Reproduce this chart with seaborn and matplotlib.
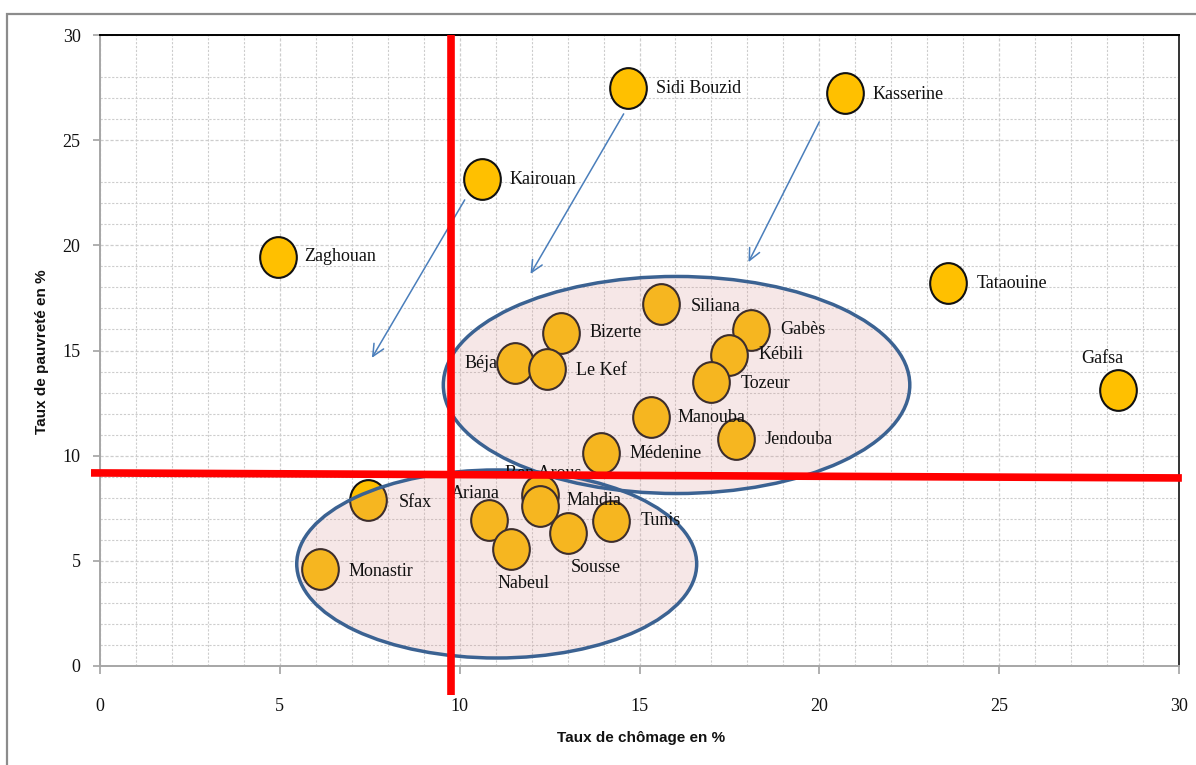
import numpy as np
import pandas as pd
import matplotlib
matplotlib.use("Agg")
import matplotlib.pyplot as plt
import seaborn as sns
from matplotlib.path import Path
from matplotlib.patches import Ellipse, Rectangle
from matplotlib.transforms import Affine2D
from matplotlib.ticker import MultipleLocator, FixedLocator

# ---- data ----
regions = ["Zaghouan", "Kairouan", "Sidi Bouzid", "Kasserine", "Tataouine", "Gafsa",
           "Siliana", "Bizerte", "Béja", "Le Kef", "Gabès", "Kébili", "Tozeur",
           "Manouba", "Jendouba", "Médenine", "Ben Arous", "Mahdia", "Ariana",
           "Tunis", "Sousse", "Nabeul", "Sfax", "Monastir"]
chomage = [4.94, 10.61, 14.69, 20.72, 23.58, 28.31,
           15.61, 12.81, 11.53, 12.42, 18.11, 17.50, 17.00,
           15.33, 17.69, 13.92, 12.22, 12.22, 10.81,
           14.22, 13.00, 11.42, 7.44, 6.11]
pauvrete = [19.45, 23.16, 27.48, 27.25, 18.21, 13.12,
            17.21, 15.83, 14.41, 14.12, 15.98, 14.79, 13.50,
            11.84, 10.79, 10.13, 8.15, 7.62, 6.94,
            6.90, 6.32, 5.56, 7.89, 4.61]

# label placement (offset in pixels, horizontal alignment)
label_dx = [27, 28, 28, 27, 29, -16, 29, 29, -17, 29, 29, 29, 29,
            26, 28, 29, 4, 27, -14, 29, 3, -13, 31, 29]
label_dy = [0, -1, 0, -2, -1, 32, -2, 1, -1, -1, 0, 0, -1,
            -1, 0, -1, 21, 5, 27, 0, -34, -34, -2, -2]
label_ha = ["left"] * 5 + ["center"] + ["left"] * 2 + ["right"] + ["left"] * 7 + \
           ["center", "left", "center", "left", "left", "left", "left", "left"]

# threshold lines
seuil_x = 9.75
seuil_y_left, seuil_y_right = 9.18, 8.94

# groups (ellipses): center x, center y, width, height
groups_cx = [16.03, 11.03]
groups_cy = [13.36, 4.85]
groups_w = [12.97, 11.12]
groups_h = [10.32, 8.94]

# arrows: start -> end
arr_x0 = [10.14, 14.56, 20.00]
arr_y0 = [22.16, 26.25, 25.87]
arr_x1 = [7.56, 11.97, 18.03]
arr_y1 = [14.65, 18.64, 19.20]

x_ticks = [0, 5, 10, 15, 20, 25, 30]
y_ticks = [0, 5, 10, 15, 20, 25, 30]
y_minor = [1, 2, 3, 4, 6, 7, 8, 9, 11, 12, 13, 14, 16, 17, 18, 19, 21, 22, 23, 26, 27, 28]

df = pd.DataFrame({"region": regions, "chomage": chomage, "pauvrete": pauvrete})

# ---- style ----
sns.set_theme(style="ticks")
plt.rcParams['font.family'] = ['Liberation Serif', 'DejaVu Serif']

W, H = 1196, 765
fig = plt.figure(figsize=(W / 100, H / 100), dpi=100)
fig.patch.set_facecolor("white")
ax = fig.add_axes([100 / W, 1 - 666 / H, (1179 - 100) / W, (666 - 35) / H])

# outer frame
fig.add_artist(Rectangle((7 / W, -0.05), 1.2, (1 - 14 / H) + 0.05,
                         transform=fig.transFigure, fill=False,
                         edgecolor="#8C8C8C", lw=1.6, zorder=10))

ax.set_xlim(0, 30)
ax.set_ylim(0, 30)
ax.set_xticks(x_ticks)
ax.set_yticks(y_ticks)
ax.xaxis.set_minor_locator(MultipleLocator(1))
ax.yaxis.set_minor_locator(FixedLocator(y_minor))
ax.grid(True, which="major", color="#CDCDCD", lw=0.9, ls=(0, (2.5, 1.5)))
ax.grid(True, which="minor", color="#CDCDCD", lw=0.8, ls=(0, (2, 1.5)))
ax.set_axisbelow(True)

# points
ell = Path.unit_circle().transformed(Affine2D().scale(0.9, 1.0))
sns.scatterplot(data=df, x="chomage", y="pauvrete", marker=ell, s=860,
                color="#FFC000", edgecolor="#111111", linewidth=1.5,
                ax=ax, zorder=3, legend=False, clip_on=False)

# labels
for name, x, y, dx, dy, ha in zip(regions, chomage, pauvrete, label_dx, label_dy, label_ha):
    ax.annotate(name, (x, y), xytext=(dx, dy), textcoords="offset pixels",
                ha=ha, va="center", fontsize=13, color="#111111", zorder=5)

# ellipses (semi-transparent, drawn over the points)
for cx, cy, w, h in zip(groups_cx, groups_cy, groups_w, groups_h):
    ax.add_patch(Ellipse((cx, cy), w, h, facecolor="#D99694", alpha=0.22,
                         edgecolor="none", zorder=4))
    ax.add_patch(Ellipse((cx, cy), w, h, facecolor="none",
                         edgecolor="#3B6292", lw=2.5, zorder=4.5))

# arrows
for x0, y0, x1, y1 in zip(arr_x0, arr_y0, arr_x1, arr_y1):
    ax.annotate("", xy=(x1, y1), xytext=(x0, y0),
                arrowprops=dict(arrowstyle="->,head_length=0.85,head_width=0.4",
                                color="#4A7EBB", lw=1.1, shrinkA=0, shrinkB=0,
                                mutation_scale=10), zorder=3)

# red threshold lines
ax.plot([seuil_x, seuil_x], [30, -1.38], color="#FF0000", lw=5.5,
        solid_capstyle="butt", clip_on=False, zorder=6)
ax.plot([-0.25, 30.08], [seuil_y_left, seuil_y_right], color="#FF0000", lw=5.5,
        solid_capstyle="butt", clip_on=False, zorder=6)

# spines
ax.spines["top"].set_visible(True)
ax.spines["right"].set_visible(True)
ax.spines["top"].set_color("#000000")
ax.spines["right"].set_color("#333333")
ax.spines["left"].set_color("#A6A6A6")
ax.spines["bottom"].set_color("#A6A6A6")
for s in ax.spines.values():
    s.set_linewidth(1.4)

ax.tick_params(axis="x", which="major", length=6, pad=17, labelsize=13,
               color="#A6A6A6", labelcolor="#111111")
ax.tick_params(axis="y", which="major", length=5, pad=9, labelsize=13,
               color="#A6A6A6", labelcolor="#111111")
ax.tick_params(which="minor", length=0)

ax.set_xlabel("Taux de chômage en %", fontfamily=["Liberation Sans", "DejaVu Sans"],
              fontweight="bold", fontsize=11, va="center", color="#111111")
ax.set_ylabel("Taux de pauvreté en %", fontfamily=["Liberation Sans", "DejaVu Sans"],
              fontweight="bold", fontsize=11, va="center", ha="center", color="#111111")
ax.xaxis.set_label_coords(0.501, (666 - 738) / 631)
ax.yaxis.set_label_coords((42 - 100) / 1079, (666 - 352) / 631)

fig.savefig("out.png", dpi=100, facecolor="white")
